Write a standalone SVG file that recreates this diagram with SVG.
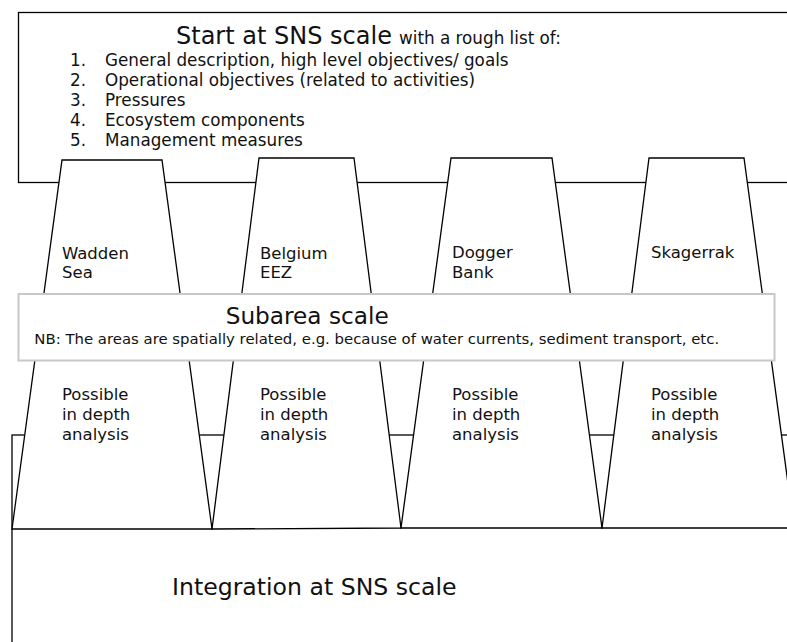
<svg xmlns="http://www.w3.org/2000/svg" width="787" height="642" viewBox="0 0 787 642">
<style>
.box{fill:#fff;stroke:#000;stroke-width:1.3}
.trap{fill:#fff;stroke:#000;stroke-width:1.3;stroke-linejoin:miter}
.sub{fill:#fff;stroke:#c8c8c8;stroke-width:2}
text{font-family:"DejaVu Sans","Verdana",sans-serif;fill:#111}
.big{font-size:24px}
.mid{font-size:16.8px}
.lbl{font-size:16.5px}
.nb{font-size:14.9px}
</style>
<rect width="787" height="642" fill="#fff"/>
<g id="sns-start">
<rect class="box" x="18.5" y="12.5" width="800" height="170"/>
<text class="big" x="176" y="44">Start at SNS scale</text>
<text class="mid" x="399" y="44">with a rough list of:</text>
<text class="mid" x="70" y="65.7">1.</text><text class="mid" x="105" y="65.7">General description, high level objectives/ goals</text>
<text class="mid" x="70" y="86">2.</text><text class="mid" x="105" y="86">Operational objectives (related to activities)</text>
<text class="mid" x="70" y="106">3.</text><text class="mid" x="105" y="106">Pressures</text>
<text class="mid" x="70" y="126">4.</text><text class="mid" x="105" y="126">Ecosystem components</text>
<text class="mid" x="70" y="146">5.</text><text class="mid" x="105" y="146">Management measures</text>
</g>
<g id="sns-integration">
<rect class="box" x="12" y="435" width="800" height="300"/>
<text class="big" x="172" y="595" style="font-size:23.6px">Integration at SNS scale</text>
</g>
<g id="wadden-sea">
<polygon class="trap" points="62,160 162,160 212,529 12,529"/>
<text class="lbl" x="62" y="259">Wadden</text>
<text class="lbl" x="62" y="278">Sea</text>
<text class="lbl" x="62" y="399.5">Possible</text>
<text class="lbl" x="62" y="419.5">in depth</text>
<text class="lbl" x="62" y="440">analysis</text>
</g>
<g id="belgium-eez">
<polygon class="trap" points="259,158 354,158 401,528 212,529"/>
<text class="lbl" x="260" y="259">Belgium</text>
<text class="lbl" x="260" y="278">EEZ</text>
<text class="lbl" x="260" y="399.5">Possible</text>
<text class="lbl" x="260" y="419.5">in depth</text>
<text class="lbl" x="260" y="440">analysis</text>
</g>
<g id="dogger-bank">
<polygon class="trap" points="451,158 552,158 602,528 401,528"/>
<text class="lbl" x="452" y="258">Dogger</text>
<text class="lbl" x="452" y="278">Bank</text>
<text class="lbl" x="452" y="399.5">Possible</text>
<text class="lbl" x="452" y="419.5">in depth</text>
<text class="lbl" x="452" y="440">analysis</text>
</g>
<g id="skagerrak">
<polygon class="trap" points="649,158 744,158 794,528 602,528"/>
<text class="lbl" x="651" y="258">Skagerrak</text>
<text class="lbl" x="651" y="399.5">Possible</text>
<text class="lbl" x="651" y="419.5">in depth</text>
<text class="lbl" x="651" y="440">analysis</text>
</g>
<g id="subarea-scale">
<rect class="sub" x="18.5" y="294" width="756" height="66.5"/>
<text class="big" x="225.7" y="324" style="font-size:23.2px">Subarea scale</text>
<text class="nb" x="34.3" y="344.3">NB: The areas are spatially related, e.g. because of water currents, sediment transport, etc.</text>
</g>
<g id="connectors"/>
</svg>
